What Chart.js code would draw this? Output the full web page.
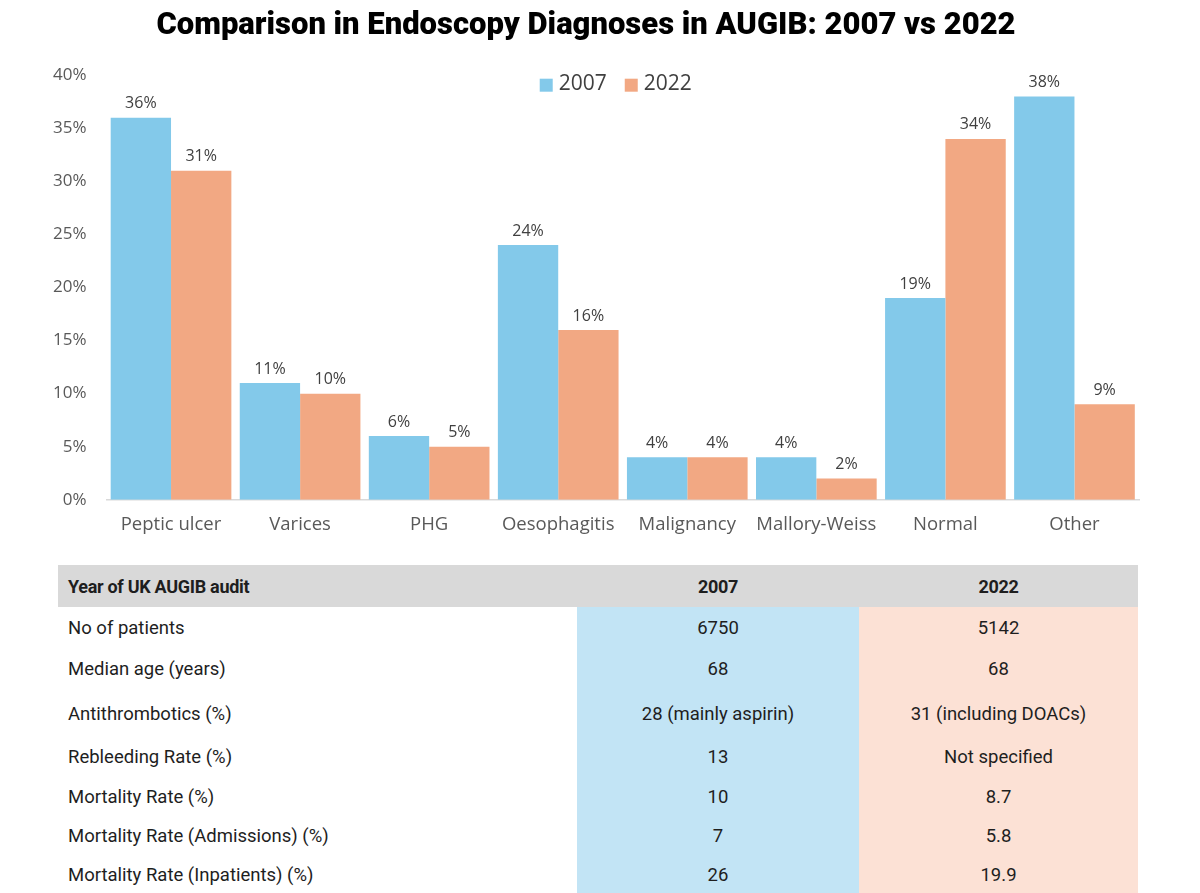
<!DOCTYPE html>
<html>
<head>
<meta charset="utf-8">
<title>Endoscopy Diagnoses in AUGIB</title>
<script src="https://cdn.jsdelivr.net/npm/chart.js@4.4.1/dist/chart.umd.min.js"></script>
<style>
  body { margin: 0; background: #fff; font-family: Roboto, "Open Sans", sans-serif; }
  #chart-box { position: relative; width: 1200px; height: 555px; }
  table { border-collapse: collapse; margin: 10px 0 0 58px; width: 1080px; font-size: 18.5px; color: #1e1e1e; }
  th, td { padding: 0 10px; }
  th { background: #d9d9d9; height: 42px; font-weight: bold; font-size: 18px; letter-spacing: -0.3px; }
  th:first-child, td:first-child { text-align: left; width: 499px; }
  td.y2007 { background: #c2e4f5; text-align: center; width: 262px; }
  td.y2022 { background: #fce1d5; text-align: center; }
  th.c { text-align: center; }
</style>
</head>
<body>
<div id="chart-box"><canvas id="diagChart"></canvas></div>
<table id="audit-table">
  <thead>
    <tr><th>Year of UK AUGIB audit</th><th class="c">2007</th><th class="c">2022</th></tr>
  </thead>
  <tbody id="audit-body"></tbody>
</table>
<script>
const categories = ['Peptic ulcer', 'Varices', 'PHG', 'Oesophagitis', 'Malignancy', 'Mallory-Weiss', 'Normal', 'Other'];
const values2007 = [36, 11, 6, 24, 4, 4, 19, 38];
const values2022 = [31, 10, 5, 16, 4, 2, 34, 9];

const tableLabels = ['No of patients', 'Median age (years)', 'Antithrombotics (%)', 'Rebleeding Rate (%)',
    'Mortality Rate (%)', 'Mortality Rate (Admissions) (%)', 'Mortality Rate (Inpatients) (%)'];
const table2007 = ['6750', '68', '28 (mainly aspirin)', '13', '10', '7', '26'];
const table2022 = ['5142', '68', '31 (including DOACs)', 'Not specified', '8.7', '5.8', '19.9'];
const rowHeights = [41, 42, 47, 40, 39, 39, 39];

const blue = '#83c9ea';
const orange = '#f2a883';
const textGrey = '#595959';

// fill the table under the chart
const tbody = document.getElementById('audit-body');
tableLabels.forEach(function(label, i) {
    const tr = document.createElement('tr');
    tr.style.height = rowHeights[i] + 'px';
    tr.innerHTML = `<td>${label}</td><td class="y2007">${table2007[i]}</td><td class="y2022">${table2022[i]}</td>`;
    tbody.appendChild(tr);
});

// value labels above every bar
const barLabels = {
    id: 'barLabels',
    afterDatasetsDraw(chart) {
        const ctx = chart.ctx;
        ctx.save();
        ctx.font = '16px "Open Sans", sans-serif';
        ctx.fillStyle = '#404040';
        ctx.textAlign = 'center';
        ctx.textBaseline = 'bottom';
        chart.data.datasets.forEach(function(ds, i) {
            chart.getDatasetMeta(i).data.forEach(function(bar, j) {
                ctx.fillText(ds.data[j] + '%', bar.x, bar.y - 6);
            });
        });
        ctx.restore();
    }
};

// legend drawn inside the top of the plot area
const innerLegend = {
    id: 'innerLegend',
    afterDraw(chart) {
        const ctx = chart.ctx;
        const area = chart.chartArea;
        ctx.save();
        ctx.font = '21px "Open Sans", sans-serif';
        ctx.textBaseline = 'middle';
        const box = 13, gapBox = 6, gapItem = 18;
        const items = chart.data.datasets.map(ds => ({ text: ds.label, color: ds.backgroundColor, w: ctx.measureText(ds.label).width }));
        let total = items.reduce((s, it) => s + box + gapBox + it.w, 0) + gapItem * (items.length - 1);
        let x = (area.left + area.right) / 2 - total / 2 - 7;
        const y = area.top + 9;
        items.forEach(function(it) {
            ctx.fillStyle = it.color;
            ctx.fillRect(x, y - box / 2 + 1, box, box);
            x += box + gapBox;
            ctx.fillStyle = '#404040';
            ctx.fillText(it.text, x, y);
            x += it.w + gapItem;
        });
        ctx.restore();
    }
};

new Chart(document.getElementById('diagChart').getContext('2d'), {
    type: 'bar',
    data: {
        labels: categories,
        datasets: [
            { label: '2007', data: values2007, backgroundColor: blue },
            { label: '2022', data: values2022, backgroundColor: orange }
        ]
    },
    options: {
        responsive: true,
        maintainAspectRatio: false,
        animation: false,
        datasets: { bar: { categoryPercentage: 0.935, barPercentage: 1.0 } },
        layout: { padding: { left: 33, right: 61, top: 0, bottom: 5 } },
        plugins: {
            legend: { display: false },
            tooltip: { enabled: false },
            title: {
                display: true,
                text: 'Comparison in Endoscopy Diagnoses in AUGIB: 2007 vs 2022',
                color: '#000',
                font: { family: 'Roboto', size: 31, weight: '900' },
                padding: { top: 8, bottom: 30 }
            }
        },
        scales: {
            x: {
                grid: { display: false, drawTicks: false },
                border: { color: '#d9d9d9', width: 1.5 },
                ticks: {
                    color: textGrey,
                    font: { family: 'Open Sans', size: 18.5 },
                    padding: 14,
                    maxRotation: 0,
                    minRotation: 0,
                    autoSkip: false
                }
            },
            y: {
                min: 0,
                max: 40,
                grid: { display: false, drawTicks: false },
                border: { display: false },
                ticks: {
                    stepSize: 5,
                    color: textGrey,
                    font: { family: 'Open Sans', size: 17 },
                    padding: 20,
                    callback: v => v + '%'
                }
            }
        }
    },
    plugins: [barLabels, innerLegend]
});
</script>
</body>
</html>
